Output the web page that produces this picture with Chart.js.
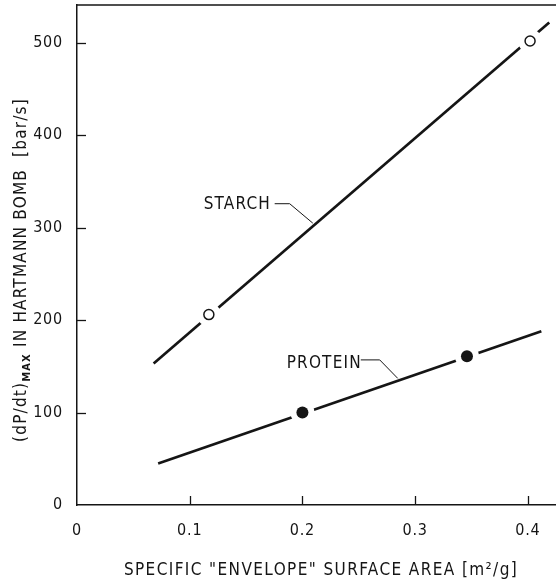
<!DOCTYPE html>
<html><head><meta charset="utf-8">
<script src="https://cdn.jsdelivr.net/npm/chart.js@4.4.0/dist/chart.umd.min.js"></script>
<style>html,body{margin:0;padding:0;background:#fff}#wrap{width:556px;height:585px}</style>
</head><body><div id="wrap"><canvas id="c"></canvas></div>
<script>
// ---- data ----
const starchPointsX = [0.117, 0.402];
const starchPointsY = [206, 502];
const proteinPointsX = [0.200, 0.346];
const proteinPointsY = [100, 161];
const starchLineX = [0.068, 0.419];
const starchLineY = [153, 522];
const proteinLineX = [0.072, 0.412];
const proteinLineY = [45, 188];
const xTickValues = [0, 0.1, 0.2, 0.3, 0.4];
const yTickValues = [0, 100, 200, 300, 400, 500];
const seriesNames = ['STARCH', 'PROTEIN'];
const xTitle = 'SPECIFIC "ENVELOPE" SURFACE AREA [m\u00B2/g]';
const yTitleParts = ['(dP/dt)', 'MAX', ' IN HARTMANN BOMB  [bar/s]'];

const FONT = '"DejaVu Sans Condensed", "Liberation Sans Narrow", "DejaVu Sans", sans-serif';
const INK = '#151515';

const pts = (xs, ys) => xs.map((x, i) => ({x, y: ys[i]}));

// label anchors (data units) + leader paths
const callouts = [
  {text: seriesNames[0], at: {x: 0.1124, y: 325}, path: [{x: 0.1754, y: 326}, {x: 0.1887, y: 326}, {x: 0.2092, y: 305}]},
  {text: seriesNames[1], at: {x: 0.186, y: 153}, path: [{x: 0.2518, y: 157}, {x: 0.2686, y: 157}, {x: 0.2846, y: 137}]}
];

const spacing = {
  id: 'spacing',
  beforeDraw(chart) { chart.ctx.letterSpacing = '0.8px'; }
};

const decor = {
  id: 'decor',
  afterDraw(chart) {
    const {ctx, chartArea: a, scales: {x, y}} = chart;
    ctx.save();
    ctx.strokeStyle = INK;
    // top frame line
    ctx.lineWidth = 1.5;
    ctx.beginPath(); ctx.moveTo(a.left, a.top); ctx.lineTo(a.right, a.top); ctx.stroke();
    // inward ticks
    ctx.lineWidth = 1.3;
    xTickValues.slice(1).forEach(v => {
      const px = Math.round(x.getPixelForValue(v)) + 0.5;
      ctx.beginPath(); ctx.moveTo(px, a.bottom); ctx.lineTo(px, a.bottom - 9); ctx.stroke();
    });
    yTickValues.slice(1).forEach(v => {
      const py = Math.round(y.getPixelForValue(v)) + 0.5;
      ctx.beginPath(); ctx.moveTo(a.left, py); ctx.lineTo(a.left + 9, py); ctx.stroke();
    });
    // callouts
    ctx.fillStyle = INK;
    ctx.font = '17px ' + FONT;
    ctx.letterSpacing = '1.2px';
    ctx.textBaseline = 'middle';
    ctx.textAlign = 'left';
    ctx.lineWidth = 1;
    callouts.forEach(c => {
      ctx.fillText(c.text, x.getPixelForValue(c.at.x), y.getPixelForValue(c.at.y));
      ctx.beginPath();
      c.path.forEach((p, i) => {
        const px = x.getPixelForValue(p.x), py = y.getPixelForValue(p.y);
        i ? ctx.lineTo(px, py) : ctx.moveTo(px, py);
      });
      ctx.stroke();
    });
    // x title
    ctx.font = '17px ' + FONT;
    ctx.letterSpacing = '1.4px';
    ctx.textAlign = 'center';
    ctx.fillText(xTitle, 321, 571);
    // y title with subscript
    ctx.translate(22, 270);
    ctx.rotate(-Math.PI / 2);
    ctx.letterSpacing = '1.2px';
    const fMain = '17px ' + FONT, fSub = 'bold 11px ' + FONT;
    ctx.font = fMain; const w0 = ctx.measureText(yTitleParts[0]).width;
    ctx.font = fSub; const w1 = ctx.measureText(yTitleParts[1]).width;
    ctx.font = fMain; const w2 = ctx.measureText(yTitleParts[2]).width;
    let cx = -(w0 + w1 + w2) / 2;
    ctx.textAlign = 'left';
    ctx.font = fMain; ctx.fillText(yTitleParts[0], cx, 0); cx += w0;
    ctx.font = fSub; ctx.fillText(yTitleParts[1], cx, 5); cx += w1;
    ctx.font = fMain; ctx.fillText(yTitleParts[2], cx, 0);
    ctx.restore();
  }
};

new Chart(document.getElementById('c'), {
  type: 'scatter',
  data: {
    datasets: [
      {label: 'starch fit', data: pts(starchLineX, starchLineY), showLine: true, borderColor: INK, borderWidth: 2.7, pointRadius: 0, order: 3},
      {label: 'protein fit', data: pts(proteinLineX, proteinLineY), showLine: true, borderColor: INK, borderWidth: 2.7, pointRadius: 0, order: 3},
      {label: 'gap', data: pts(starchPointsX, starchPointsY).concat(pts(proteinPointsX, proteinPointsY)), pointRadius: 12, pointBackgroundColor: '#fff', pointBorderWidth: 0, pointBorderColor: '#fff', order: 2},
      {label: seriesNames[0], data: pts(starchPointsX, starchPointsY), pointRadius: 5, pointBackgroundColor: '#fff', pointBorderColor: INK, pointBorderWidth: 1.5, order: 1},
      {label: seriesNames[1], data: pts(proteinPointsX, proteinPointsY), pointRadius: 6, pointBackgroundColor: INK, pointBorderColor: INK, pointBorderWidth: 0, order: 1}
    ]
  },
  options: {
    responsive: true,
    maintainAspectRatio: false,
    animation: false,
    layout: {autoPadding: false, padding: {top: 5, left: 0, right: 0, bottom: 0}},
    plugins: {legend: {display: false}, tooltip: {enabled: false}},
    scales: {
      x: {
        type: 'linear', min: 0, max: 0.425,
        afterBuildTicks: s => { s.ticks = xTickValues.map(v => ({value: v})); },
        afterFit: s => { s.height = 80; s.paddingLeft = 0; s.paddingRight = 0; },
        grid: {display: false},
        border: {display: true, color: INK, width: 1.5},
        ticks: {color: INK, padding: 8, font: {family: FONT, size: 16}, maxRotation: 0,
          callback: v => v === 0 ? '0' : v.toFixed(1)}
      },
      y: {
        type: 'linear', min: 0, max: 541,
        afterBuildTicks: s => { s.ticks = yTickValues.map(v => ({value: v})); },
        afterFit: s => { s.width = 77; s.paddingTop = 0; s.paddingBottom = 0; },
        grid: {display: false},
        border: {display: true, color: INK, width: 1.5},
        ticks: {color: INK, padding: 6, font: {family: FONT, size: 16}}
      }
    }
  },
  plugins: [spacing, decor]
});
</script>
</body></html>
